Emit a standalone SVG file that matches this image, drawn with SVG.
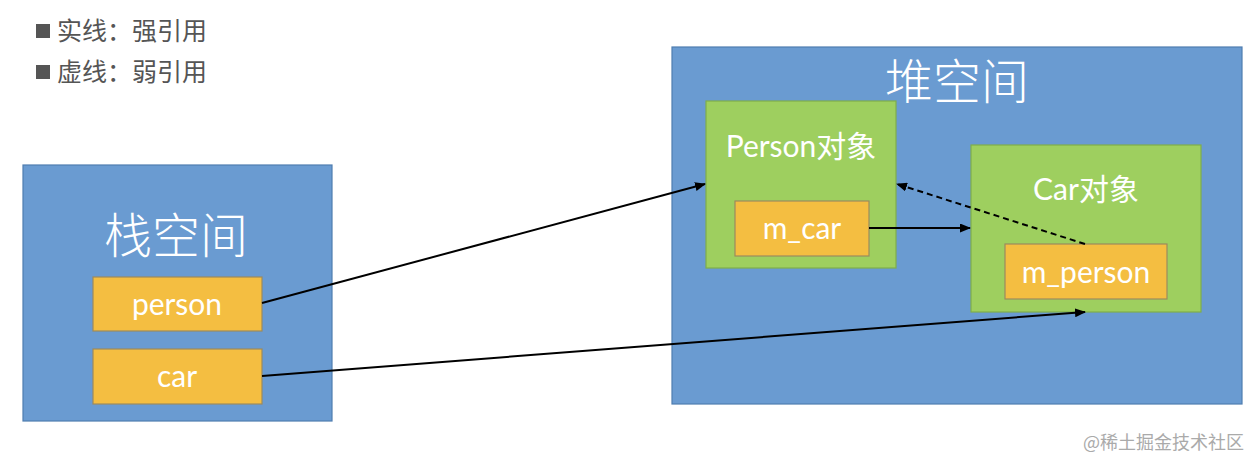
<svg xmlns="http://www.w3.org/2000/svg" width="1260" height="470" viewBox="0 0 1260 470">
<style>
.space{fill:#6A9BD1;stroke:#4F7DB0;stroke-width:1.2}
.obj{fill:#9ECF5F;stroke:#7FAE4A;stroke-width:1.2}
.field{fill:#F4BE41;stroke:#9C8A5E;stroke-width:1.2}
.title{font-family:"Noto Sans CJK SC",sans-serif;font-weight:300;font-size:48px;fill:#fff;text-anchor:middle}
.lbl{font-family:Lato,"Noto Sans CJK SC",sans-serif;font-size:30px;fill:#fff;text-anchor:middle}
.legend{font-family:"Noto Sans CJK SC",sans-serif;font-size:25px;fill:#555}
.conn{stroke:#000;stroke-width:2;fill:none}
</style>
<defs>
<marker id="ah" markerWidth="11" markerHeight="9" refX="10" refY="4.5" orient="auto" markerUnits="userSpaceOnUse">
<path d="M0,0 L11,4.5 L0,9 z" fill="#000"/>
</marker>
</defs>
<rect width="1260" height="470" fill="#fff"/>
<g id="legend">
<rect x="36" y="24" width="14" height="14" fill="#555"/>
<text class="legend" x="57" y="40">实线：强引用</text>
<rect x="36" y="65" width="14" height="14" fill="#555"/>
<text class="legend" x="57" y="81">虚线：弱引用</text>
</g>
<g id="stack">
<rect class="space" x="23" y="165" width="309" height="256"/>
<text class="title" x="176" y="253">栈空间</text>
</g>
<g id="person">
<rect class="field" x="93" y="277" width="169" height="54"/>
<text class="lbl" x="177" y="315">person</text>
</g>
<g id="car">
<rect class="field" x="93" y="349" width="169" height="55"/>
<text class="lbl" x="177" y="387">car</text>
</g>
<g id="heap">
<rect class="space" x="672" y="47" width="570" height="357"/>
<text class="title" x="957" y="99">堆空间</text>
</g>
<g id="personObj">
<rect class="obj" x="706" y="101" width="190" height="167"/>
<text class="lbl" x="801" y="157">Person对象</text>
</g>
<g id="m_car">
<rect class="field" x="735" y="201" width="134" height="55"/>
<text class="lbl" x="802" y="239">m_car</text>
</g>
<g id="carObj">
<rect class="obj" x="971" y="145" width="230" height="167"/>
<text class="lbl" x="1086" y="200">Car对象</text>
</g>
<g id="m_person">
<rect class="field" x="1005" y="244" width="162" height="55"/>
<text class="lbl" x="1086" y="283">m_person</text>
</g>
<g id="connectors">
<line class="conn" x1="262" y1="303" x2="705" y2="184" marker-end="url(#ah)"/>
<line class="conn" x1="262" y1="376" x2="1085" y2="312" marker-end="url(#ah)"/>
<line class="conn" x1="869" y1="228" x2="970" y2="228" marker-end="url(#ah)"/>
<line class="conn" x1="1085" y1="244" x2="897" y2="184" stroke-dasharray="6,4" marker-end="url(#ah)"/>
</g>
<text x="1244" y="449" text-anchor="end" font-family="'Noto Sans CJK SC',sans-serif" font-size="18" fill="#aaa">@稀土掘金技术社区</text>
</svg>
